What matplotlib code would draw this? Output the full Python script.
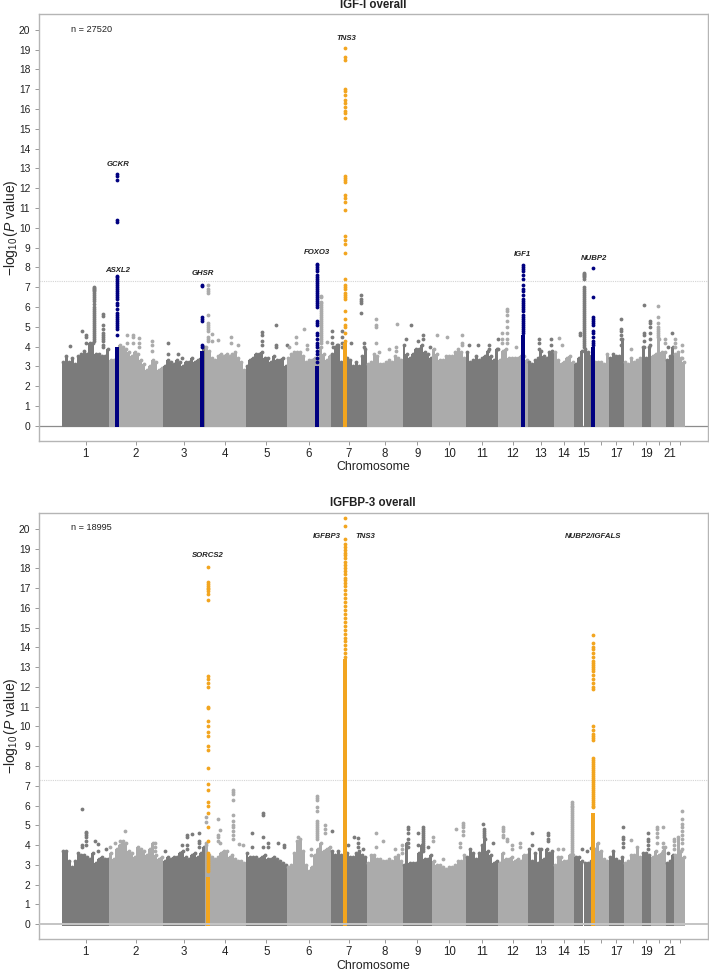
import bisect
import numpy as np
import matplotlib
matplotlib.use("Agg")
import matplotlib.pyplot as plt

plt.rcParams['font.family'] = ['Liberation Sans', 'DejaVu Sans']
plt.rcParams['mathtext.fontset'] = 'custom'
plt.rcParams['mathtext.rm'] = 'Liberation Sans'
plt.rcParams['mathtext.it'] = 'Liberation Sans:italic'

chrom_names = [str(i) for i in range(1, 23)]
shown_labels = ['1','2','3','4','5','6','7','8','9','10','11','12','13','14','15','','17','','19','','21','']
chrom_widths = [47,54,42,40.5,41.5,44,35.7,35.8,29.8,33.7,32,30,25.7,20.3,19,16,14.7,18,9.3,15,8,11]

# Upper envelope of the dense SNP cloud, per chromosome
igf_sky = [
 [3.2,3.5,3.2,3.4,3.1,3.5,3.6,3.8,3.6,4.2,4.2,3.6,3.6,3.5,3.5,3.9],
 [3.3,3.3,3.9,4.1,4.0,3.9,3.7,3.5,3.7,3.6,3.3,3.1,2.8,3.0,3.3,3.2,2.8,2.9],
 [3.0,3.3,3.2,3.1,3.3,3.2,3.0,3.2,3.2,3.4,3.2,3.3,3.4,4.0],
 [4.0,3.8,3.4,3.3,3.5,3.6,3.5,3.6,3.5,3.6,3.7,3.4,3.2,2.8],
 [3.0,3.3,3.4,3.6,3.6,3.7,3.4,3.4,3.2,3.5,3.3,3.3,3.4,3.0],
 [3.4,3.6,3.7,3.7,3.7,3.5,3.2,3.3,3.3,3.4,3.3,4.0,3.6,3.3,3.5],
 [3.6,4.0,4.1,3.2,3.2,3.4,3.3,3.0,3.2,3.0,3.5,3.9],
 [3.1,3.2,3.6,3.5,3.1,3.1,3.2,3.3,3.2,3.5,3.4,3.3],
 [4.1,3.6,3.4,3.6,3.9,3.9,4.1,3.7,3.6,3.4],
 [3.9,3.6,3.3,3.3,3.5,3.5,3.5,3.7,3.9,3.7,3.4],
 [3.7,3.2,3.3,3.5,3.3,3.4,3.5,3.8,3.5,3.3,3.9],
 [3.3,3.8,3.9,3.4,3.4,3.4,3.4,3.5,3.5,3.3],
 [3.2,3.1,3.3,3.4,3.8,3.5,3.4,3.7,3.8],
 [3.7,3.3,3.1,3.2,3.4,3.5,3.2],
 [3.1,3.4,3.8,3.9,3.7,3.5],
 [3.2,3.2,3.2,3.1,3.6],
 [3.4,3.6,3.5,3.5,4.4],
 [3.2,3.1,3.4,3.2,3.3,3.4],
 [4.0,3.4,4.0],
 [3.5,3.6,4.4,3.7,3.7],
 [3.3,3.5,4.0],
 [3.6,3.7,3.4,3.2],
]
igfbp_sky = [
 [3.7,3.7,3.2,2.9,3.2,3.6,3.5,3.5,3.4,3.3,3.6,3.1,3.3,3.4,3.3,3.3],
 [3.6,3.3,3.8,4.0,4.2,4.1,3.7,3.6,3.4,3.9,3.8,3.7,3.5,3.8,4.1,3.5,3.3,3.4],
 [3.2,3.4,3.3,3.4,3.4,3.6,3.7,3.4,3.3,3.5,3.6,3.4,3.6,3.9],
 [4.0,3.5,3.4,3.3,3.4,3.6,3.7,3.7,3.4,3.5,3.3,3.2,3.2,3.1],
 [3.6,3.4,3.4,3.4,3.3,3.4,3.5,3.3,3.3,3.4,3.3,3.2,3.1,3.0],
 [2.9,3.0,3.6,4.2,4.3,3.7,3.0,2.7,2.9,3.5,3.8,4.1,3.7,3.8,3.9],
 [3.7,3.5,3.7,3.5,3.5,3.6,3.4,3.4,3.6,3.7,3.5,3.4],
 [3.1,3.5,3.5,3.3,3.3,3.2,3.2,3.3,3.2,3.4,3.5,3.2],
 [3.0,4.1,3.1,3.1,3.1,3.6,4.0,3.3,3.3,3.5],
 [3.2,3.0,3.0,2.9,2.8,2.9,2.9,3.0,3.2,3.2,3.5],
 [3.4,3.8,3.6,3.3,3.6,4.0,4.3,3.7,3.5,3.1,3.2],
 [3.1,3.6,3.3,3.3,3.4,3.2,3.3,3.2,3.5,3.5],
 [3.8,3.2,3.6,3.1,3.8,3.3,3.8,3.6,3.7],
 [3.0,3.4,3.4,3.2,3.2,3.5,3.5],
 [3.4,3.4,3.2,3.1,3.1,3.2],
 [3.8,4.1,3.7,3.3,3.2],
 [3.4,3.7,3.3,3.2,3.4],
 [3.1,3.2,3.5,3.5,3.9,3.4],
 [3.6,3.6,3.5],
 [3.4,3.7,3.5,3.6,3.9],
 [3.1,3.2,3.5],
 [3.5,4.4,3.7,3.4],
]

# Isolated SNPs above the cloud: (genome position, [-log10 P, ...])
igf_hits = [
 (8,[4.05]),(19.7,[4.8]),(23.7,[4.6,4.5,4.2]),
 (32,[7.0,6.95,6.9,6.85,6.8,6.7,6.6,6.5,6.4,6.3,6.15,6.0,5.9,5.8,5.7,5.6,5.5,5.4,5.3,5.2,5.1,5.0,4.9,4.8,4.7,4.6,4.5,4.4,4.3]),
 (41.3,[5.65,5.55,5.1,4.9,4.7,4.6,4.5,4.4,4.3,4.1,4.0]),
 (65.3,[4.6,4.2]),(70.7,[4.6,4.5,4.2]),(76.7,[4.45,4.2,4.0]),(89.7,[4.3,4.1,3.8]),
 (105.7,[4.2,3.6]),(115.7,[3.6]),(119.7,[3.4]),
 (146.3,[7.1,6.9,6.8,6.7,5.6,5.2,5.1,5.0,4.9,4.8,4.5,4.4,4.3]),(150.3,[4.65,4.3]),
 (156.3,[4.35]),(168.7,[4.5,4.2]),(176.3,[4.1]),
 (200.3,[4.75,4.6,4.3,4.1]),(214,[5.1,4.1,4.0]),(224.7,[4.1]),(227,[4.0]),
 (234,[4.5,4.2]),(242,[4.9]),(245.3,[4.1,3.9]),
 (259,[6.55,6.5,6.25,6.2,6.1,6.0,5.9,5.8,5.7,5.6,5.5,5.4,5.3,5.2,5.1,5.0,4.9,4.8,4.7,4.6,4.5,4.4,4.3,4.2]),
 (265.3,[4.25]),(269.7,[4.8,4.5,4.2]),
 (271,[4.0]),(274.7,[4.1]),(279.7,[4.8,4.5,4.2,4.0]),(288.7,[4.2]),
 (299.3,[6.6,6.4,6.3,6.2,5.7]),(302,[4.2,4.0]),
 (313.7,[5.4,5.1,5.0,4.2]),(317.3,[3.7]),(327.3,[3.9]),(334.7,[5.15]),(334,[4.0,3.8]),
 (343.7,[4.4]),(349.3,[5.1]),(356.3,[4.3]),(360.7,[4.6,4.4]),(368,[4.0]),
 (375.3,[4.6]),(384.7,[4.5]),(400,[4.6,4.2,4.1]),
 (407.3,[4.1]),(415.7,[4.1]),(426.7,[4.1,3.9]),(435.7,[4.4,3.9]),
 (440.3,[4.7,4.4,4.2]),(445.3,[5.9,5.8,5.6,5.3,5.0,4.7,4.4,4.2]),(454,[4.0]),
 (477,[4.4,4.2,3.9]),(488.7,[4.4,4.1]),(497,[4.45]),(500.3,[4.1]),
 (518,[4.7,4.6]),
 (522.3,[7.7,7.65,7.6,7.55,7.5,7.4,7.0,6.9,6.8,6.7,6.6,6.5,6.4,6.3,6.2,6.1,6.0,5.9,5.8,5.7,5.6,5.5,5.4,5.3,5.2,5.1,5.0,4.9,4.8,4.7,4.6,4.5,4.4,4.3,4.2,4.1,4.0]),
 (558.7,[5.4,4.9,4.8,4.6,4.4,4.1]),(569,[3.9]),
 (582.3,[6.1,4.7,4.6,4.3,4.0]),(587.7,[5.3,5.2,5.0,4.7,4.4,4.1]),
 (596.3,[6.05,5.5,5.2,5.0,4.9,4.8,4.7,4.6,4.5]),(602.7,[4.4,4.2]),
 (606.3,[4.0]),(610,[4.7]),(613.3,[4.4,4.2,4.0]),(620,[4.1,3.8,3.4]),
]
igfbp_hits = [
 (19.7,[5.8,4.0,3.9]),(24,[4.65,4.6,4.5,4.4,4.2,4.0]),(33.3,[4.2]),(36.3,[4.05,3.7]),(44,[3.8]),(48,[3.9]),
 (53,[4.1]),(58,[4.2]),(63,[4.7]),(93.3,[4.1,3.9,3.7]),
 (103,[3.7]),(119.7,[4.0]),(125.3,[4.5,4.4,4.0,3.8]),(129.7,[4.55]),(137.3,[4.6,4.2,4.1,3.9]),(144,[5.4,5.15,4.1]),
 (155.7,[5.3,4.5,4.4,4.2]),(158,[4.75,4.1]),
 (171,[6.8,6.7,6.6,6.3,5.5,5.2,5.0,4.9,4.7,4.5,4.3]),(177.3,[4.05]),(181.3,[4.0]),
 (189.7,[4.6,3.9]),(201.3,[5.6,5.5,4.4,3.9]),(206.3,[4.1,3.9]),(216.3,[4.1]),(222,[4.0,3.9]),
 (236.3,[4.4]),(248.7,[3.8,3.5]),
 (254.7,[6.5,6.4,6.3,5.9,5.7,5.2,5.1,5.0,4.9,4.8,4.7,4.6,4.5,4.4,4.3]),(263,[5.0,4.8,4.6]),
 (270.3,[4.7]),(286.3,[4.0]),(292,[4.4]),(296.3,[4.35,4.1,3.9]),(301.3,[3.8]),
 (314.3,[4.6,3.9]),(321,[4.2]),(333,[3.8]),(339.7,[4.0,3.8,3.6]),
 (345.7,[4.9,4.8,4.6,4.3,4.1,3.9]),(356,[4.6,4.0]),
 (360.7,[4.9,4.8,4.7,4.6,4.5,4.4,4.3,4.2,4.1,4.0,3.9,3.8,3.7]),(366.3,[3.9]),(371,[4.4,4.2]),
 (380.7,[3.3]),(393.7,[4.8]),(398,[4.1,3.9]),(401.3,[5.1,5.0,4.9,4.7,4.5]),
 (420.7,[5.05]),(422,[4.8,4.7,4.6,4.5,4.4]),(430.7,[4.1]),
 (441.3,[4.9,4.8,4.7,4.5,4.4]),(445.3,[4.3,4.2]),(449.7,[4.0,3.8]),(458.3,[4.1,3.9]),
 (470,[4.6,4.0]),(477,[3.8]),(486.3,[4.6,4.5,4.3,4.2]),
 (496.3,[3.8]),(500.7,[3.8]),
 (510.3,[6.2,6.1,6.0,5.9,5.8,5.7,5.6,5.5,5.4,5.3,5.2,5.1,5.0,4.9,4.8,4.7,4.6,4.5,4.4,4.3,4.2,4.1,4.0,3.9,3.8,3.7,3.6,3.5]),
 (519.7,[3.8]),(525.3,[3.7]),(528.7,[3.85]),
 (561.3,[4.9,4.4,4.3,4.1,3.9]),(569,[4.25]),(586.3,[4.6,4.3,4.2,4.0,3.8]),
 (594.7,[4.9,4.8,4.6,4.4,4.1]),(601.3,[4.9,4.1,3.9,3.7]),
 (606.3,[3.6]),(612,[4.3,4.2,4.0,3.8]),
 (619.7,[5.7,5.3,5.05,4.9,4.7,4.5,4.3,4.1,3.8]),
]

# Highlighted loci: (position, solid column top, [isolated -log10 P above it])
igf_navy = [
 (55.3,4.0,[12.7,12.6,12.4,10.4,10.3,7.55,7.5,7.4,7.3,7.2,7.1,7.0,6.9,6.8,6.7,6.6,6.5,6.4,6.2,6.1,5.9,5.7,5.6,5.5,5.4,5.3,5.2,5.1,5.0,4.9,4.6]),
 (139.7,3.8,[7.12,7.08,5.5,5.4,5.3,4.1,4.0]),
 (254.7,3.0,[8.15,8.1,8.0,7.9,7.8,7.6,7.5,7.4,7.3,7.2,7.1,7.0,6.9,6.8,6.7,6.6,6.5,6.4,6.3,6.2,6.1,6.0,5.3,5.2,5.1,4.7,4.6,4.4,4.2,4.1,4.0,3.8,3.6,3.4,3.2]),
 (460.7,4.6,[8.1,8.0,7.9,7.8,7.6,7.4,7.1,6.9,6.8,6.6,6.4,6.3,6.2,6.1,6.0,5.9,5.8,5.6,5.5,5.4,5.3,5.2,5.1,5.0,4.9,4.8,4.7]),
 (531.3,4.0,[7.95,6.5,5.5,5.4,5.3,5.2,5.1,4.8,4.7,4.5,4.3,4.2,4.1]),
]
igf_gold = [
 (283.3,4.2,[19.1,18.6,18.45,17.0,16.9,16.7,16.45,16.3,16.1,15.9,15.8,15.55,12.6,12.5,12.4,12.3,11.65,11.5,11.3,10.9,9.6,9.4,9.2,8.7,7.4,7.1,7.0,6.9,6.7,6.6,6.5,6.4,5.8,5.4,5.1,5.0,4.7,4.3]),
]
igfbp_gold = [
 (146.3,2.4,[18.05,17.3,17.2,17.1,17.0,16.95,16.85,16.7,16.4,12.55,12.4,12.2,12.0,11.0,10.95,10.3,10.0,9.7,9.5,9.0,8.8,7.9,7.1,6.8,6.2,6.0,5.6,4.9,4.2,3.6,3.5,3.4,3.3,3.2,3.1,3.0,2.9,2.8,2.7]),
 (283.3,13.4,[20.55,20.15,19.5,19.25,19.1,18.95,18.8,18.65,18.5,18.3,18.15,18.0,17.85,17.7,17.5,17.4,17.25,17.1,16.9,16.7,16.5,16.3,16.1,15.9,15.7,15.5,15.3,15.1,14.9,14.7,14.5,14.3,14.1,13.9,13.7,13.5]),
 (531.3,5.6,[14.65,14.2,14.0,13.9,13.7,13.5,13.3,13.2,13.1,13.0,12.9,12.8,12.6,12.4,12.2,12.0,11.9,10.0,9.8,9.6,9.5,9.4,9.3,8.4,8.3,8.2,8.1,8.0,7.9,7.8,7.7,7.6,7.5,7.4,7.3,7.2,7.1,7.0,6.9,6.8,6.7,6.6,6.5,6.4,6.3,6.2,6.1,6.0,5.9]),
]

igf_genes = [('GCKR',56,13.2),('ASXL2',56,7.83),('GHSR',141,7.69),('FOXO3',255,8.73),
             ('TNS3',284,19.56),('IGF1',460,8.67),('NUBP2',532,8.47)]
igfbp_genes = [('SORCS2',146,18.63),('IGFBP3',265,19.6),('TNS3',303,19.6),('NUBP2/IGFALS',531,19.6)]

DARK, LIGHT, NAVY, GOLD = '#7b7b7b', '#ababab', '#000080', '#f2a51f'
GWS = 7.3
W, H = 709, 971
starts = np.concatenate([[0], np.cumsum(chrom_widths)])
centers = (starts[:-1] + starts[1:]) / 2
DOT = 7.5


def panel(top_px, bot_px, ylim, sky, hits, navy, gold, genes, title, n_text, n_y, zero_col, zero_lw):
    ax = fig.add_axes([38.5/W, 1-bot_px/H, (708-38.5)/W, (bot_px-top_px)/H])
    ax.set_xlim(-23.5, 646)
    ax.set_ylim(*ylim)
    ax.axhline(GWS, color='#d4d4d4', lw=0.8, ls=(0, (1, 1)), zorder=1)
    for i, tops in enumerate(sky):
        col = DARK if i % 2 == 0 else LIGHT
        tops = np.array(tops)
        w = chrom_widths[i] / len(tops)
        xs = starts[i] + (np.arange(len(tops)) + 0.5) * w
        ax.bar(xs, tops + 0.08, width=w, bottom=-0.08, color=col, lw=0, zorder=2)
        ax.scatter(xs, tops, s=DOT, color=col, lw=0, zorder=2)
    for x, ys in hits:
        i = min(bisect.bisect_right(list(starts), x) - 1, 21)
        ax.scatter([x]*len(ys), ys, s=DOT, color=DARK if i % 2 == 0 else LIGHT, lw=0, zorder=3)
    for group, col in ((navy, NAVY), (gold, GOLD)):
        for x, solid, ys in group:
            ax.bar([x], [solid + 0.08], width=3.8, bottom=-0.08, color=col, lw=0, zorder=4)
            ax.scatter([x]*len(ys), ys, s=DOT, color=col, lw=0, zorder=4)
    ax.axhline(0, color=zero_col, lw=zero_lw, zorder=5 if zero_lw > 1 else 1.5)
    for name, x, y in genes:
        ax.text(x, y, name, style='italic', weight='bold', fontsize=5.6, ha='center', va='center', color='#222222', zorder=6)
    ax.text(9, n_y, n_text, fontsize=6.6, ha='left', va='center', color='#222222')
    ax.set_xticks(centers)
    ax.set_xticklabels(shown_labels, fontsize=8.3, color='#222222')
    ax.set_yticks(range(0, 21))
    ax.tick_params(axis='y', labelsize=7.4, length=3, width=0.7, color='#999999', labelcolor='#222222', pad=3)
    ax.tick_params(axis='x', length=3, width=0.7, color='#999999', pad=2)
    for s in ax.spines.values():
        s.set_color('#b5b5b5')
        s.set_linewidth(1.0)
    ax.set_xlabel('Chromosome', fontsize=8.8, color='#222222', labelpad=1)
    ax.set_title(title, fontsize=8.3, weight='bold', color='#222222', pad=5)
    ax.set_ylabel(r'$-\log_{10}(\mathit{P}\ \mathrm{value})$', fontsize=10, color='#222222', labelpad=-1)
    return ax


fig = plt.figure(figsize=(W/100, H/100), dpi=100)
panel(14.5, 441, (-0.77, 20.77), igf_sky, igf_hits, igf_navy, igf_gold, igf_genes,
      'IGF-I overall', 'n = 27520', 20, '#8c8c8c', 0.9)
panel(513, 939.3, (-0.77, 20.8), igfbp_sky, igfbp_hits, [], igfbp_gold, igfbp_genes,
      'IGFBP-3 overall', 'n = 18995', 20.05, '#c4c4c4', 1.4)
fig.savefig('out.png', dpi=100)
